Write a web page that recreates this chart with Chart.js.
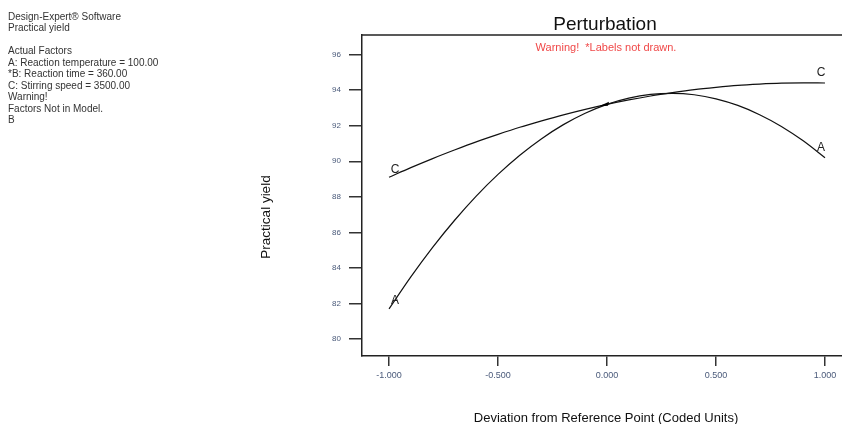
<!DOCTYPE html>
<html>
<head>
<meta charset="utf-8">
<script src="https://cdn.jsdelivr.net/npm/chart.js@4.4.1/dist/chart.umd.min.js"></script>
<style>
  html, body { margin: 0; padding: 0; background: #ffffff; }
  #wrap { width: 842px; height: 424px; position: relative; }
</style>
</head>
<body>
<div id="wrap"><canvas id="c" width="842" height="424"></canvas></div>
<script>
// Coded deviation from the reference point
const deviation = [-1.0, -0.9, -0.8, -0.7, -0.6, -0.5, -0.4, -0.3, -0.2, -0.1, 0.0,
                   0.1, 0.2, 0.3, 0.4, 0.5, 0.6, 0.7, 0.8, 0.9, 1.0];
// Factor A: Reaction temperature
const yieldA = [81.70, 83.50, 85.16, 86.67, 88.04, 89.26, 90.34, 91.27, 92.06, 92.70, 93.20,
                93.55, 93.76, 93.82, 93.74, 93.51, 93.14, 92.62, 91.96, 91.15, 90.20];
// Factor C: Stirring speed
const yieldC = [89.10, 89.64, 90.15, 90.63, 91.09, 91.51, 91.91, 92.27, 92.61, 92.92, 93.20,
                93.45, 93.67, 93.86, 94.03, 94.16, 94.27, 94.34, 94.39, 94.41, 94.40];
const curveNames = ['A', 'C'];
const yTicks = [80, 82, 84, 86, 88, 90, 92, 94, 96];
const xTicks = [-1.0, -0.5, 0.0, 0.5, 1.0];
const referenceYield = 93.2;

const infoLines = [
  'Design-Expert\u00ae Software',
  'Practical yield',
  '',
  'Actual Factors',
  'A: Reaction temperature = 100.00',
  '*B: Reaction time = 360.00',
  'C: Stirring speed = 3500.00',
  'Warning!',
  'Factors Not in Model.',
  'B'
];

const FONT = '"Liberation Sans", Arial, sans-serif';
const toPoints = ys => deviation.map((x, i) => ({ x: x, y: ys[i] }));

const decorations = {
  id: 'decorations',
  afterDraw(chart) {
    const ctx = chart.ctx;
    const area = chart.chartArea;
    const xs = chart.scales.x, ys = chart.scales.y;
    ctx.save();
    // top edge of the frame
    ctx.strokeStyle = '#222';
    ctx.lineWidth = 1.5;
    ctx.beginPath();
    ctx.moveTo(area.left, area.top);
    ctx.lineTo(chart.width, area.top);
    ctx.stroke();

    // reference point marker
    ctx.fillStyle = '#000';
    const px = xs.getPixelForValue(0), py = ys.getPixelForValue(referenceYield);
    ctx.beginPath();
    ctx.moveTo(px - 8, py + 2);
    ctx.lineTo(px + 2, py - 2.5);
    ctx.lineTo(px + 1, py + 1.5);
    ctx.closePath();
    ctx.fill();

    // curve labels at both ends
    ctx.font = '12px ' + FONT;
    ctx.fillStyle = '#222';
    ctx.textAlign = 'center';
    ctx.textBaseline = 'middle';
    const series = [yieldA, yieldC];
    series.forEach((ys2, k) => {
      const n = ys2.length - 1;
      ctx.fillText(curveNames[k], xs.getPixelForValue(deviation[0]) + 6, ys.getPixelForValue(ys2[0]) - 8);
      ctx.fillText(curveNames[k], xs.getPixelForValue(deviation[n]) - 4, ys.getPixelForValue(ys2[n]) - 10);
    });

    // title and warning
    ctx.font = '19px ' + FONT;
    ctx.fillStyle = '#111';
    ctx.fillText('Perturbation', 605, 25);
    ctx.font = '11px ' + FONT;
    ctx.fillStyle = '#f04848';
    ctx.fillText('Warning!  *Labels not drawn.', 606, 48);

    // axis titles
    ctx.font = '13px ' + FONT;
    ctx.fillStyle = '#111';
    ctx.fillText('Deviation from Reference Point (Coded Units)', 606, 418);
    ctx.save();
    ctx.translate(266, 217);
    ctx.rotate(-Math.PI / 2);
    ctx.font = '13.5px ' + FONT;
    ctx.fillText('Practical yield', 0, 0);
    ctx.restore();

    // factor information block
    ctx.font = '10px ' + FONT;
    ctx.fillStyle = '#333';
    ctx.textAlign = 'left';
    infoLines.forEach((t, i) => ctx.fillText(t, 8, 17 + i * 11.5));
    ctx.restore();
  }
};

new Chart(document.getElementById('c'), {
  type: 'scatter',
  data: {
    datasets: [
      { label: curveNames[0], data: toPoints(yieldA) },
      { label: curveNames[1], data: toPoints(yieldC) }
    ].map(d => Object.assign(d, {
      showLine: true,
      borderColor: '#111',
      borderWidth: 1.2,
      pointRadius: 0,
      tension: 0.4,
      cubicInterpolationMode: 'monotone',
      fill: false
    }))
  },
  options: {
    responsive: false,
    animation: false,
    devicePixelRatio: 1,
    layout: { padding: { left: 262, right: 0, top: 35, bottom: 0 } },
    plugins: { legend: { display: false }, tooltip: { enabled: false } },
    scales: {
      x: {
        type: 'linear',
        min: -1.124,
        max: 1.078,
        afterBuildTicks: s => { s.ticks = xTicks.map(v => ({ value: v })); },
        afterFit: s => { s.height = 68; },
        grid: { drawOnChartArea: false, drawTicks: true, tickLength: 10, color: '#333', lineWidth: 1.5 },
        border: { display: true, color: '#222', width: 1.5 },
        ticks: {
          callback: v => v.toFixed(3),
          font: { size: 9, family: FONT },
          color: '#4a5a7a',
          padding: 4,
          maxRotation: 0,
          autoSkip: false
        }
      },
      y: {
        type: 'linear',
        min: 79.05,
        max: 97.1,
        afterBuildTicks: s => { s.ticks = yTicks.map(v => ({ value: v })); },
        afterFit: s => { s.width = 100; },
        grid: { drawOnChartArea: false, drawTicks: true, tickLength: 13, color: '#333', lineWidth: 1.5 },
        border: { display: true, color: '#222', width: 1.5 },
        ticks: {
          callback: v => String(v),
          font: { size: 8, family: FONT },
          color: '#4a5a7a',
          padding: 8
        }
      }
    }
  },
  plugins: [decorations]
});
</script>
</body>
</html>
